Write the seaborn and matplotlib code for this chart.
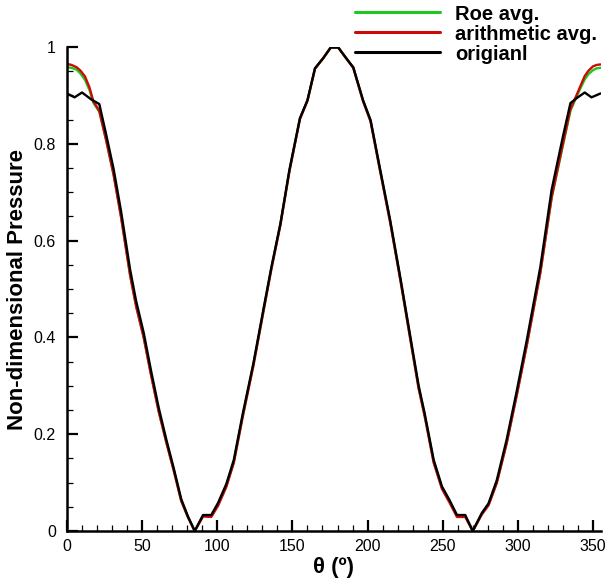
import matplotlib
matplotlib.use("Agg")
import matplotlib.pyplot as plt
import seaborn as sns
import pandas as pd
from matplotlib.ticker import MultipleLocator, FuncFormatter
from matplotlib.lines import Line2D

# ---- data ----
theta_orig = [0, 5, 10, 16, 21.5, 26, 31, 36, 42, 46, 51, 56, 61, 66, 71, 76, 80.5, 85,
              90.5, 96, 100.5, 106, 111, 117, 124, 131, 136, 142, 148, 155, 160, 165,
              170.5, 175.5, 180.5, 185, 190.5, 197, 202, 208, 215, 222, 228, 234, 238,
              244, 249.5, 254.5, 259.5, 265, 270, 276, 280.5, 286, 292.5, 299, 306,
              315, 322.5, 330, 335, 339, 344.5, 349, 355]
p_orig = [0.904, 0.896, 0.906, 0.892, 0.882, 0.82, 0.748, 0.66, 0.54, 0.475, 0.41,
          0.33, 0.255, 0.19, 0.13, 0.066, 0.03, 0.0, 0.033, 0.033, 0.058, 0.097, 0.147,
          0.243, 0.346, 0.463, 0.545, 0.635, 0.746, 0.853, 0.89, 0.956, 0.977, 0.999,
          0.999, 0.98, 0.958, 0.89, 0.849, 0.753, 0.643, 0.52, 0.41, 0.30, 0.243,
          0.147, 0.092, 0.064, 0.033, 0.033, 0.0, 0.037, 0.057, 0.105, 0.188, 0.285,
          0.395, 0.546, 0.705, 0.815, 0.884, 0.894, 0.906, 0.896, 0.904]

theta_avg = [0, 3, 6.5, 9, 12, 15, 17.5, 21.5, 26, 31, 36, 42, 46, 51, 56, 61, 66, 71,
             76, 80.5, 85, 90.5, 96, 100.5, 106, 111, 117, 124, 131, 136, 142, 148, 155,
             160, 165, 170.5, 175.5, 180.5, 185, 190.5, 197, 202, 208, 215, 222, 228,
             234, 238, 244, 249.5, 254.5, 259.5, 265, 270, 276, 280.5, 286, 292.5, 299,
             306, 315, 322.5, 330, 335, 339, 342, 344.5, 347, 350, 352.5, 355]
p_arith = [0.965, 0.963, 0.958, 0.951, 0.939, 0.916, 0.888, 0.868, 0.808, 0.736, 0.648,
           0.528, 0.464, 0.40, 0.321, 0.247, 0.184, 0.125, 0.062, 0.028, 0.0, 0.03,
           0.029, 0.052, 0.091, 0.141, 0.237, 0.341, 0.458, 0.541, 0.632, 0.743, 0.851,
           0.889, 0.955, 0.977, 0.999, 0.999, 0.98, 0.957, 0.888, 0.846, 0.749, 0.638,
           0.515, 0.404, 0.294, 0.237, 0.141, 0.087, 0.059, 0.029, 0.029, 0.0, 0.034,
           0.053, 0.099, 0.18, 0.276, 0.384, 0.534, 0.69, 0.80, 0.872, 0.90, 0.922,
           0.94, 0.951, 0.96, 0.963, 0.964]
p_roe = [0.958, 0.957, 0.953, 0.945, 0.932, 0.911, 0.885, 0.866, 0.808, 0.737, 0.649,
         0.529, 0.465, 0.401, 0.322, 0.248, 0.185, 0.126, 0.063, 0.029, 0.0, 0.031,
         0.031, 0.054, 0.093, 0.143, 0.239, 0.343, 0.46, 0.543, 0.634, 0.745, 0.852,
         0.889, 0.955, 0.977, 0.999, 0.999, 0.98, 0.957, 0.889, 0.847, 0.751, 0.64,
         0.517, 0.406, 0.296, 0.239, 0.143, 0.089, 0.061, 0.031, 0.031, 0.0, 0.035,
         0.055, 0.101, 0.182, 0.278, 0.386, 0.535, 0.688, 0.797, 0.868, 0.897, 0.917,
         0.933, 0.944, 0.952, 0.956, 0.957]

labels = ["Roe avg.", "arithmetic avg.", "origianl"]
colors = ["#1ec81e", "#cc0a0a", "#000000"]

df = pd.concat([
    pd.DataFrame({"theta": theta_avg, "p": p_roe, "series": labels[0]}),
    pd.DataFrame({"theta": theta_avg, "p": p_arith, "series": labels[1]}),
    pd.DataFrame({"theta": theta_orig, "p": p_orig, "series": labels[2]}),
], ignore_index=True)

sns.set_theme(style="ticks")
plt.rcParams["font.family"] = ["Liberation Sans", "DejaVu Sans"]
plt.rcParams["text.color"] = "black"
plt.rcParams["axes.labelcolor"] = "black"

fig = plt.figure(figsize=(6.09, 5.81), dpi=100)
ax = fig.add_axes([67 / 609, 1 - 531 / 581, (600.5 - 67) / 609, (531 - 47) / 581])

sns.lineplot(data=df, x="theta", y="p", hue="series", hue_order=labels,
             palette=dict(zip(labels, colors)), estimator=None, sort=False,
             linewidth=1.7, ax=ax, legend=False)

ax.set_xlim(0, 355)
ax.set_ylim(0, 1)
ax.xaxis.set_major_locator(MultipleLocator(50))
ax.xaxis.set_minor_locator(MultipleLocator(10))
ax.yaxis.set_major_locator(MultipleLocator(0.2))
ax.yaxis.set_minor_locator(MultipleLocator(0.05))
ax.yaxis.set_major_formatter(FuncFormatter(lambda v, p: f"{v:g}"))

for s in ["top", "right"]:
    ax.spines[s].set_visible(False)
for s in ["left", "bottom"]:
    ax.spines[s].set_linewidth(1.8)
    ax.spines[s].set_color("black")

ax.tick_params(which="major", direction="in", length=8, width=1.6, labelsize=11.5,
               colors="black")
ax.tick_params(which="minor", direction="in", length=4.5, width=0.9, colors="black")
ax.tick_params(axis="y", which="major", pad=8)
ax.tick_params(axis="x", which="major", pad=6)

ax.set_xlabel("θ (º)", fontsize=16, fontweight="bold", labelpad=2)
ax.set_ylabel("Non-dimensional Pressure", fontsize=16, fontweight="bold", labelpad=4)

handles = [Line2D([], [], color=c, linewidth=2.2) for c in colors]
fig.legend(handles, labels, loc="upper left", bbox_to_anchor=(343 / 609, 1.013),
           frameon=False, handlelength=4.2, handletextpad=0.75, labelspacing=0.05,
           borderpad=0.1, prop={"size": 14.5, "weight": "bold"})

fig.savefig("out.png", dpi=100)
